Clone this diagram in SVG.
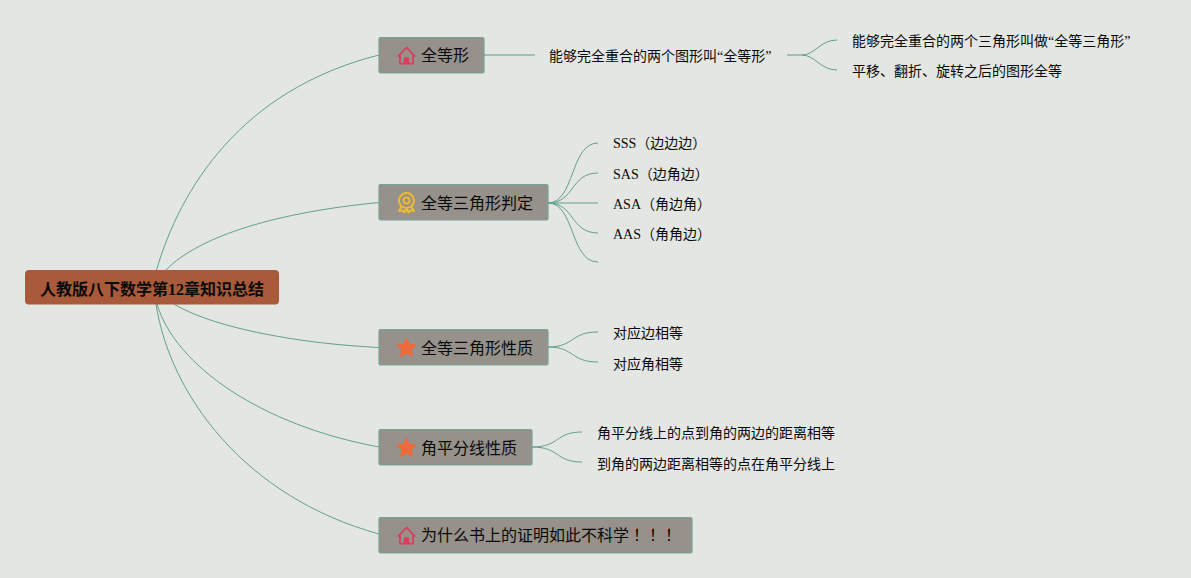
<svg xmlns="http://www.w3.org/2000/svg" width="1191" height="578" viewBox="0 0 1191 578">
<style>
text{font-family:"Liberation Serif","Noto Sans CJK SC",serif;fill:#0a0a0a}
.t1{font-size:16px}
.t2{font-size:14px}
.root{font-size:16px;font-weight:bold}
.box{fill:#96918a;stroke:#74a596;stroke-width:1.200}
.line{fill:none;stroke:#62a08c;stroke-width:1}
.thick{fill:none;stroke:#62a08c;stroke-width:1.500;opacity:.7}
.jp{font-family:"Noto Sans CJK JP",sans-serif}
</style>
<defs>
<g id="house"><path d="M-8.200 .5 0-8 8.200 .5M-6.500-1V8.200H6.500V-1" fill="none" stroke="#dc3c5f" stroke-width="1.800" stroke-linejoin="round" stroke-linecap="round"/><path d="M-2.800 8.500V3.200Q0-.6 2.800 3.200V8.500Z" fill="#dc3c5f"/></g>
<path id="star" d="M0-9.500 2.900-3.200 9.500-2.400 4.600 2.300 5.900 9 0 5.700-5.900 9-4.600 2.300-9.500-2.400-2.900-3.200Z" fill="#ee6a3a" stroke="#ee6a3a" stroke-linejoin="round"/>
</defs>
<rect width="1191" height="578" fill="#e3e6e2"/>
<g id="connectors">
<path class="line" d="M156.500 270C180 190 240 90 379 55"/>
<path class="line" d="M166 270C200 235 280 212 379 202.500"/>
<path class="line" d="M174 304C210 326 290 343 379 347.500"/>
<path class="line" d="M157 304C175 365 260 425 379 447"/>
<path class="line" d="M156 304C170 395 245 497 379 534"/>
<path class="thick" d="M484 55H535"/>
<path class="thick" d="M787 55H802"/>
<path class="line" d="M802 55C815 55 820 40 837 40"/>
<path class="line" d="M802 55C815 55 820 70 837 70"/>
<path class="line" d="M548 203C575 203 570 143 598 143"/>
<path class="line" d="M548 203C575 203 570 173 598 173"/>
<path class="line" d="M548 203H598"/>
<path class="line" d="M548 203C575 203 570 233 598 233"/>
<path class="line" d="M548 203C575 203 570 262 598 262"/>
<path class="line" d="M548 347C575 347 570 332 598 332"/>
<path class="line" d="M548 347C575 347 570 362 598 362"/>
<path class="line" d="M532 447C560 447 555 432 582 432"/>
<path class="line" d="M532 447C560 447 555 462 582 462"/>
</g>
<g id="root"><rect x="25" y="270" width="254" height="34.500" rx="4" fill="#a85a3a"/><text class="root" x="40" y="295">人教版八下数学第12章知识总结</text></g>
<g id="n1"><rect class="box" x="379" y="37.500" width="105" height="35.500" rx="1.500"/><use href="#house" x="406.500" y="55.500"/><text class="t1" x="421" y="61">全等形</text></g>
<g id="n2"><rect class="box" x="379" y="184.500" width="169" height="35.500" rx="1.500"/>
<g fill="none" stroke="#ecba34" stroke-width="2"><circle cx="406.500" cy="200.500" r="7.500"/><circle cx="406.500" cy="200.500" r="3"/><path d="M401.500 206.500 399 211 402.500 210.500 404.500 212.500 406.500 208.500 408.500 212.500 410.500 210.500 414 211 411.500 206.500" stroke-linejoin="round"/></g>
<text class="t1" x="421" y="209">全等三角形判定</text></g>
<g id="n3"><rect class="box" x="379" y="329.500" width="169" height="35.500" rx="1.500"/><use href="#star" x="406.500" y="347.500"/><text class="t1" x="421" y="354">全等三角形性质</text></g>
<g id="n4"><rect class="box" x="379" y="429.500" width="153" height="35.500" rx="1.500"/><use href="#star" x="406.500" y="447.500"/><text class="t1" x="421" y="454">角平分线性质</text></g>
<g id="n5"><rect class="box" x="379" y="517.500" width="313" height="35.500" rx="1.500"/><use href="#house" x="406.500" y="535.500"/><text class="t1" x="421" y="541">为什么书上的证明如此不科学<tspan class="jp">！！！</tspan></text></g>
<g id="n1a"><text class="t2" x="549" y="61">能够完全重合的两个图形叫“全等形”</text></g>
<g id="n1a1"><text class="t2" x="852" y="46">能够完全重合的两个三角形叫做“全等三角形”</text></g>
<g id="n1a2"><text class="t2" x="852" y="76">平移、翻折、旋转之后的图形全等</text></g>
<g id="n2a"><text class="t2" x="613" y="148">SSS（边边边）</text></g>
<g id="n2b"><text class="t2" x="613" y="179">SAS（边角边）</text></g>
<g id="n2c"><text class="t2" x="613" y="209">ASA（角边角）</text></g>
<g id="n2d"><text class="t2" x="613" y="239">AAS（角角边）</text></g>
<g id="n3a"><text class="t2" x="613" y="338">对应边相等</text></g>
<g id="n3b"><text class="t2" x="613" y="369">对应角相等</text></g>
<g id="n4a"><text class="t2" x="597" y="438">角平分线上的点到角的两边的距离相等</text></g>
<g id="n4b"><text class="t2" x="597" y="469">到角的两边距离相等的点在角平分线上</text></g>
</svg>
